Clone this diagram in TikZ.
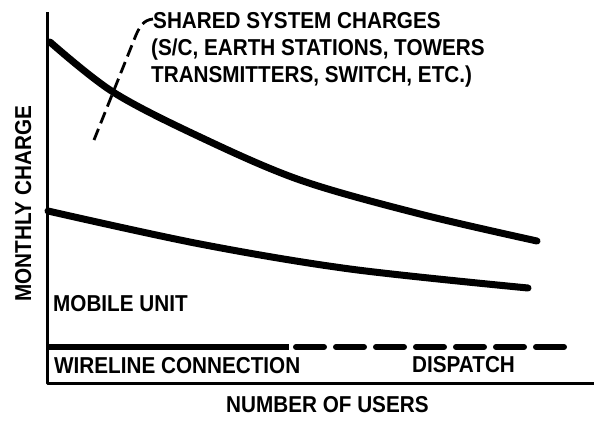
\documentclass[tikz,border=0pt]{standalone}
\usepackage{fontspec}
\setmainfont{Liberation Sans}[FakeStretch=0.9]
\begin{document}
\begin{tikzpicture}[x=1pt,y=-1pt,
  lbl/.style={font=\fontsize{23}{27}\selectfont\bfseries, inner sep=0pt, anchor=base west},
  axisline/.style={line width=3pt, line join=round},
  curveline/.style={line width=7pt, line cap=round},
  lineline/.style={line width=6pt, line cap=round},
  leader/.style={line width=2.8pt, dash pattern=on 12pt off 6pt}]
\useasboundingbox (0,0) rectangle (596,423);
% axes
\draw[axisline] (47,12) -- (47,383) -- (594,383);
% shared system charges curve
\draw[curveline] plot[smooth, tension=0.55] coordinates {(50,42) (113,92) (200,137) (300,180) (420,214) (537,241)};
% mobile unit curve
\draw[curveline] plot[smooth, tension=0.55] coordinates {(48,211) (200,244) (350,269) (528,288)};
% wireline / dispatch line
\draw[lineline, line cap=butt] (47,347) -- (289,347);
\draw[lineline, dash pattern=on 28pt off 12pt] (296,347) -- (566,347);
% labels
\node[lbl] (t1) at (153,28) {SHARED SYSTEM CHARGES};
\node[lbl] (t2) at (151,55) {(S/C, EARTH STATIONS, TOWERS};
\node[lbl] (t3) at (151,82) {TRANSMITTERS, SWITCH, ETC.)};
\node[lbl] (mobile) at (53,311) {MOBILE UNIT};
\node[lbl] (wire) at (54,373) {WIRELINE CONNECTION};
\node[lbl] (disp) at (412,372) {DISPATCH};
\node[lbl] (xlab) at (226,412) {NUMBER OF USERS};
\node[lbl, rotate=90] (ylab) at (31,302) {MONTHLY CHARGE};
% leader
\coordinate (lstart) at (94,140);
\draw[leader] (lstart) -- (134,40) .. controls (139,27) and (143,20) .. (t1.base west |- 0,19);
\end{tikzpicture}
\end{document}
